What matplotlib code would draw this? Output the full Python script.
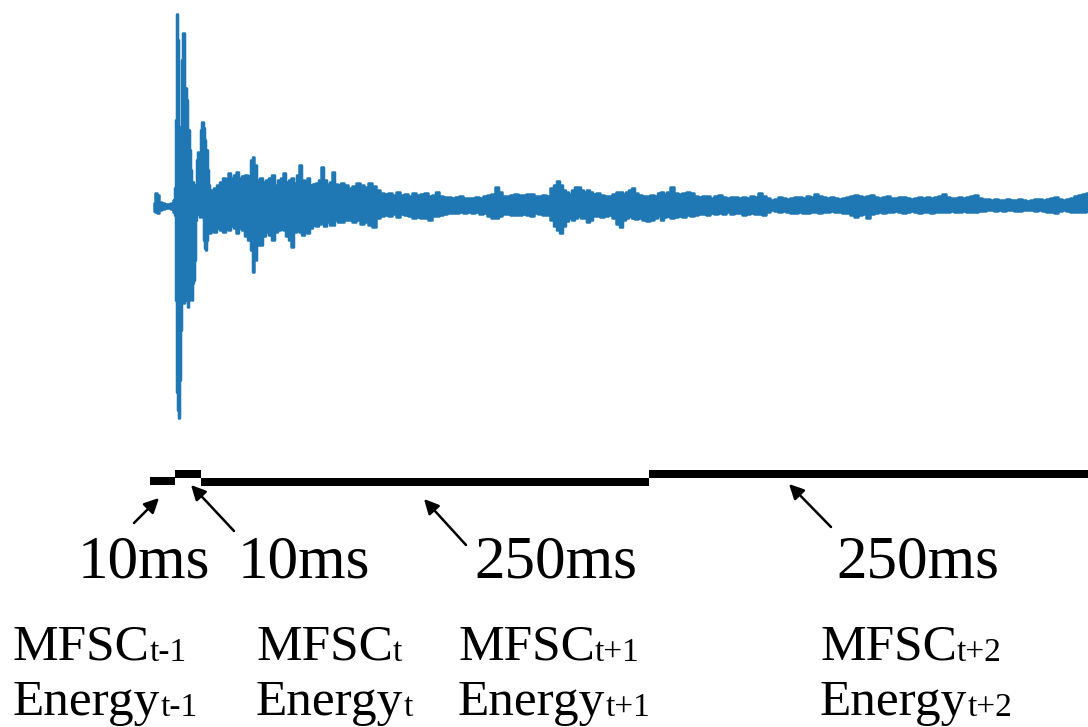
import numpy as np
import matplotlib
matplotlib.use("Agg")
import matplotlib.pyplot as plt

plt.rcParams['font.family'] = ['Liberation Serif', 'DejaVu Serif']

# waveform envelope (sample position, upper / lower amplitude)
wave_x = [154, 156, 158, 160, 163, 166, 169, 172, 174, 175,
          176, 177, 178, 179, 180, 181, 182, 183, 184, 185,
          186, 187, 188, 189, 190, 191, 192, 193, 194, 195,
          196, 197, 198, 199, 200, 201, 202, 203, 204, 205,
          206, 207, 208, 209, 210, 212, 215, 218, 221, 224,
          227, 229, 232, 235, 237, 240, 243, 246, 249, 252,
          253, 255, 258, 261, 264, 267, 270, 273, 276, 279,
          282, 284, 287, 290, 292, 295, 298, 300, 303, 306,
          308, 311, 314, 317, 320, 322, 325, 328, 331, 333,
          336, 339, 342, 346, 350, 354, 358, 362, 366, 370,
          374, 378, 382, 386, 390, 394, 398, 402, 406, 410,
          414, 418, 422, 426, 430, 434, 437, 441, 445, 449,
          453, 457, 461, 465, 469, 473, 477, 481, 485, 489,
          493, 497, 500, 504, 508, 512, 516, 520, 524, 528,
          532, 536, 540, 544, 548, 552, 555, 558, 561, 564,
          567, 570, 573, 576, 579, 582, 585, 588, 591, 594,
          598, 602, 606, 610, 614, 618, 621, 624, 627, 630,
          633, 636, 640, 644, 648, 652, 656, 659, 662, 665,
          668, 672, 676, 680, 684, 688, 692, 696, 700, 704,
          708, 712, 716, 720, 724, 728, 732, 736, 740, 744,
          748, 752, 756, 760, 764, 768, 772, 776, 780, 784,
          788, 792, 796, 800, 804, 808, 812, 816, 820, 824,
          828, 832, 836, 840, 844, 848, 852, 856, 860, 864,
          868, 872, 876, 880, 884, 888, 892, 896, 900, 904,
          908, 912, 916, 920, 924, 928, 932, 936, 940, 944,
          948, 952, 956, 960, 964, 968, 972, 976, 980, 984,
          988, 992, 996, 1000, 1004, 1008, 1012, 1016, 1020, 1024,
          1028, 1032, 1036, 1040, 1044, 1048, 1052, 1056, 1060, 1064,
          1068, 1072, 1076, 1080, 1084, 1088]
wave_hi = [2, 12, 10, 3, 2, 1, 1, 2, 5, 17,
           85, 191, 165, 78, 78, 75, 145, 172, 172, 117,
           117, 105, 75, 75, 55, 35, 23, 23, 20, 15,
           10, 45, 53, 50, 45, 75, 83, 83, 77, 65,
           55, 55, 35, 20, 13, 15, 17, 20, 23, 27,
           25, 32, 27, 30, 33, 27, 29, 30, 29, 45,
           48, 40, 25, 27, 23, 25, 27, 30, 20, 25,
           27, 32, 23, 25, 27, 22, 30, 40, 25, 23,
           27, 20, 21, 22, 25, 38, 25, 21, 23, 33,
           21, 20, 22, 20, 17, 19, 22, 20, 18, 22,
           19, 15, 12, 11, 12, 10, 13, 10, 11, 9,
           12, 10, 11, 12, 9, 10, 13, 9, 8, 8,
           7, 8, 9, 7, 7, 7, 8, 7, 9, 10,
           11, 18, 13, 9, 9, 10, 11, 10, 10, 11,
           11, 9, 9, 10, 9, 17, 20, 24, 20, 15,
           13, 11, 15, 18, 18, 15, 13, 15, 13, 11,
           12, 10, 9, 9, 11, 13, 13, 11, 13, 15,
           17, 12, 10, 9, 9, 10, 9, 12, 13, 11,
           13, 18, 12, 11, 12, 13, 12, 9, 8, 9,
           9, 7, 9, 10, 8, 7, 8, 8, 7, 8,
           7, 9, 8, 12, 9, 7, 5, 6, 8, 7,
           6, 7, 8, 8, 7, 9, 8, 11, 9, 8,
           7, 8, 7, 6, 7, 8, 9, 10, 9, 8,
           9, 10, 8, 7, 8, 9, 7, 7, 8, 8,
           7, 6, 7, 8, 7, 8, 7, 8, 9, 11,
           8, 7, 7, 8, 7, 8, 9, 10, 7, 6,
           6, 5, 6, 5, 5, 6, 5, 5, 6, 5,
           4, 5, 6, 6, 5, 6, 7, 8, 6, 5,
           6, 7, 9, 10, 11, 12]
wave_lo = [-6, -7, -8, -5, -4, -3, -3, -4, -7, -10,
           -95, -187, -205, -213, -175, -125, -95, -90, -98, -95,
           -85, -95, -102, -95, -85, -78, -95, -78, -75, -55,
           -15, -8, -8, -9, -12, -11, -10, -12, -35, -43,
           -45, -35, -27, -23, -28, -25, -27, -23, -25, -27,
           -23, -25, -21, -23, -28, -23, -25, -31, -35, -45,
           -67, -55, -40, -40, -31, -27, -30, -35, -27, -25,
           -23, -25, -31, -35, -42, -27, -25, -27, -30, -25,
           -28, -23, -20, -21, -19, -18, -21, -17, -20, -20,
           -15, -17, -17, -15, -15, -17, -15, -19, -17, -20,
           -22, -13, -11, -10, -11, -9, -12, -9, -10, -11,
           -13, -12, -13, -13, -15, -11, -11, -10, -9, -8,
           -8, -8, -7, -8, -7, -8, -7, -9, -8, -11,
           -13, -13, -11, -9, -9, -10, -10, -10, -9, -10,
           -11, -8, -9, -10, -10, -15, -21, -25, -28, -21,
           -16, -13, -15, -13, -11, -13, -13, -17, -15, -11,
           -11, -12, -11, -10, -13, -19, -22, -15, -13, -11,
           -13, -14, -13, -15, -16, -15, -13, -11, -15, -12,
           -11, -13, -12, -11, -12, -10, -11, -10, -9, -9,
           -10, -8, -9, -8, -9, -7, -9, -8, -8, -10,
           -9, -8, -9, -9, -10, -7, -5, -6, -7, -6,
           -7, -8, -8, -7, -8, -8, -7, -7, -8, -7,
           -7, -6, -7, -7, -8, -8, -10, -12, -10, -9,
           -13, -9, -8, -7, -8, -7, -7, -6, -7, -8,
           -7, -6, -7, -8, -7, -7, -8, -7, -7, -7,
           -7, -6, -7, -7, -6, -7, -7, -7, -6, -6,
           -5, -5, -6, -5, -6, -5, -5, -6, -6, -5,
           -5, -5, -6, -5, -6, -7, -7, -8, -6, -5,
           -6, -7, -7, -7, -7, -6]

# analysis windows under the waveform
seg_start = [150, 175, 201, 649]
seg_end = [175, 201, 649, 1088]
seg_level = [480.5, 474, 482, 473.5]
seg_labels = ["10ms", "10ms", "250ms", "250ms"]

label_x = [144, 304, 556, 918]
arrow_tail = [(134, 523), (234, 531), (466, 545), (831, 527)]
arrow_head = [(159, 498), (191, 485), (424, 499), (789, 484)]

feat_x = [13, 256, 458, 820]
feat_sub = ["t-1", "t", "t+1", "t+2"]

center = 205

fig = plt.figure(figsize=(10.88, 7.27), dpi=100)
ax = fig.add_axes([0, 0, 1, 1])
ax.set_xlim(0, 1088)
ax.set_ylim(727, 0)
ax.axis("off")

# waveform
wx = np.array(wave_x)
ax.fill_between(wx, center - np.array(wave_hi), center - np.array(wave_lo),
                step="mid", color="#1f77b4", edgecolor="#1f77b4", lw=1.8)

# window bars
ax.barh(seg_level, np.array(seg_end) - np.array(seg_start), left=seg_start,
        height=8, color="black")

for lab, lx, tail, head in zip(seg_labels, label_x, arrow_tail, arrow_head):
    ax.text(lx, 578, lab, fontsize=44, ha="center", va="baseline")
    ax.annotate("", xy=head, xytext=tail,
                arrowprops=dict(arrowstyle="-|>", color="black", lw=1.8,
                                mutation_scale=22, shrinkA=0, shrinkB=0))

for fx, sub in zip(feat_x, feat_sub):
    for word, base in [("MFSC", 660), ("Energy", 715)]:
        t = ax.text(fx, base, word, fontsize=37, ha="left", va="baseline")
        ax.annotate(sub, xy=(1, base + 1), xycoords=(t, "data"),
                    fontsize=24, ha="left", va="baseline")

fig.savefig("out.png", dpi=100)
